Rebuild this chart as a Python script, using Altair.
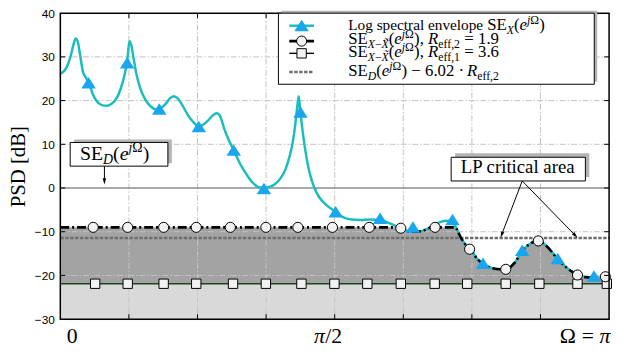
import math
import altair as alt
import pandas as pd

# ---------------- values (x in units of Omega/pi, y in dB) ----------------
env_w = [0.0, 0.0072, 0.0126, 0.0180, 0.0234, 0.0279, 0.0315, 0.0360, 0.0414, 0.0468,
         0.0522, 0.0594, 0.0683, 0.0773, 0.0845, 0.0935, 0.1025, 0.1097, 0.1169, 0.1223,
         0.1259, 0.1295, 0.1331, 0.1385, 0.1457, 0.1547, 0.1655, 0.1763, 0.1835, 0.1924,
         0.1996, 0.2068, 0.2140, 0.2212, 0.2320, 0.2428, 0.2518, 0.2590, 0.2680, 0.2770,
         0.2851, 0.2914, 0.2986, 0.3076, 0.3165, 0.3273, 0.3399, 0.3507, 0.3615, 0.3705,
         0.3795, 0.3903, 0.4011, 0.4101, 0.4173, 0.4236, 0.4281, 0.4317, 0.4344, 0.4371,
         0.4406, 0.4460, 0.4532, 0.4622, 0.4712, 0.4838, 0.4964, 0.5054, 0.5162, 0.5306,
         0.5468, 0.5647, 0.5827, 0.5971, 0.6097, 0.6205, 0.6313, 0.6457, 0.6601, 0.6709,
         0.6817, 0.6924, 0.7032, 0.7122, 0.7194, 0.7230, 0.7284, 0.7356, 0.7477, 0.7595,
         0.7703, 0.7837, 0.8016, 0.8135, 0.8286, 0.8417, 0.8556, 0.8705, 0.8854, 0.9065,
         0.9214, 0.9335, 0.9424, 0.9574, 0.9694, 0.9815, 0.9933, 1.0]
env_db = [26.2, 26.8, 27.9, 29.8, 32.5, 34.2, 33.6, 30.5, 26.5, 25.2,
          24.0, 21.4, 19.6, 18.9, 18.8, 19.3, 20.5, 22.6, 25.8, 29.5,
          33.6, 32.6, 30.0, 26.2, 22.8, 20.3, 18.6, 17.9, 18.3, 19.3,
          20.5, 21.0, 20.5, 19.2, 16.8, 15.0, 14.1, 14.4, 15.3, 16.5,
          17.1, 16.4, 13.6, 10.8, 8.5, 5.6, 3.0, 1.2, 0.2, 0.0,
          0.2, 0.8, 2.2, 4.2, 7.0, 10.5, 14.5, 18.5, 21.0, 17.8,
          14.0, 9.0, 4.0, 0.3, -2.0, -3.8, -5.0, -5.9, -6.7, -7.2,
          -7.3, -7.2, -7.3, -7.9, -8.6, -9.3, -9.8, -10.0, -9.8, -9.2,
          -8.4, -7.8, -7.5, -7.7, -8.6, -9.5, -11.0, -12.5, -14.0, -16.2,
          -17.3, -18.2, -18.6, -18.5, -17.0, -14.4, -12.8, -12.1, -13.2, -16.3,
          -18.1, -19.2, -19.8, -20.4, -20.5, -20.5, -20.4, -20.5]

dist_w = [0.0, 0.6097, 0.6205, 0.6313, 0.6457, 0.6601, 0.6709, 0.6760, 0.7194, 0.7230,
          0.7284, 0.7356, 0.7477, 0.7595, 0.7703, 0.7837, 0.8016, 0.8135, 0.8286, 0.8417,
          0.8556, 0.8705, 0.8854, 0.9065, 0.9214, 0.9335, 0.9424, 0.9574, 0.9694, 0.9815,
          0.9933, 1.0]
dist_db = [-9.0, -9.0, -9.3, -9.8, -10.0, -9.8, -9.2, -9.0, -9.0, -9.5,
           -11.0, -12.5, -14.0, -16.2, -17.3, -18.2, -18.6, -18.5, -17.0, -14.4,
           -12.8, -12.1, -13.2, -16.3, -18.1, -19.2, -19.8, -20.4, -20.5, -20.5,
           -20.4, -20.5]

tri_w = [0.0516, 0.1218, 0.1804, 0.2523, 0.3160, 0.3710, 0.4376, 0.5018, 0.5827, 0.6426,
         0.7146, 0.7703, 0.8417, 0.9065, 0.9725]
tri_db = [24.0, 28.6, 18.0, 14.0, 8.6, -0.2, 17.3, -5.5, -7.0, -9.0,
          -7.3, -17.3, -14.3, -16.2, -20.2]

circ_w = [0.0599, 0.1228, 0.1883, 0.2477, 0.3099, 0.3746, 0.4329, 0.4959, 0.5629, 0.6205,
          0.6829, 0.7459, 0.8117, 0.8710, 0.9424, 0.9933]
circ_db = [-9.0, -9.0, -9.0, -9.0, -9.0, -9.0, -9.0, -9.0, -9.0, -9.2,
           -9.0, -14.0, -18.6, -12.1, -19.9, -20.3]

sq_w = [0.0635, 0.1228, 0.1883, 0.2477, 0.3147, 0.3746, 0.4394, 0.4995, 0.5594, 0.6205,
        0.6822, 0.7415, 0.8117, 0.8729, 0.9424, 0.9959]
sq_db = [-21.9] * 16

level_r1 = -21.9        # noise level for R_eff,1 = 3.6
level_lp = -11.44       # SE_D - 6.02 * 1.9
level_sed = 0.0         # SE_D
y_ticks = [-30, -20, -10, 0, 10, 20, 30, 40]
x_grid = [0.125, 0.25, 0.375, 0.5, 0.625, 0.75, 0.875]
y_grid = [-20, -10, 10, 20, 30]

# ---------------- layout helpers ----------------
W, H = 556, 310
YMIN, YMAX = -30, 40


def fx(px):
    return px / W


def fy(py):
    return YMAX - py * (YMAX - YMIN) / H


xs = alt.Scale(domain=[0, 1], nice=False, zero=False)
ys = alt.Scale(domain=[YMIN, YMAX], nice=False, zero=False)
yaxis = alt.Axis(values=y_ticks, title="PSD [dB]", grid=False, ticks=False, domain=False,
                 labelFont="Liberation Sans", labelFontSize=12, labelColor="black",
                 labelPadding=6, titleFont="Liberation Serif", titleFontSize=21,
                 titleFontWeight="normal", titleColor="black", titlePadding=6)


def X(f):
    return alt.X(f, type="quantitative", scale=xs, axis=None)


def Y(f):
    return alt.Y(f, type="quantitative", scale=ys, axis=yaxis)


# ---------------- text composition (sub/superscripts) ----------------
REG = {' ': 250, '(': 333, ')': 333, ',': 250, '.': 250, '=': 564, '\u2212': 564, '\u00b7': 250,
       '/': 278, 'L': 611, 'P': 556, 'S': 556, 'E': 611, '\u03a9': 768, 'a': 444, 'c': 444,
       'e': 444, 'f': 333, 'g': 500, 'i': 278, 'l': 278, 'n': 500, 'o': 500, 'p': 500,
       'r': 333, 's': 389, 't': 278, 'v': 500}
ITA = {'X': 611, 'D': 722, 'e': 444, 'j': 278, 'R': 611, '\u0303': 0, '\u03c0': 520}


def tw(s, it, size):
    tbl = ITA if it else REG
    return sum(tbl.get(c, 500) for c in s) * size / 1000.0


pieces = []


def compose(x_rel, base_rel, F, parts):
    cur = x_rel
    for part in parts:
        text, kind, it = part[:3]
        size = part[3] if len(part) > 3 else (F if kind == "n" else round(F * 0.7, 2))
        dy = 0.0 if kind == "n" else (F * 0.24 if kind == "sub" else -F * 0.36)
        stripped = text.lstrip(" ")
        cur += (len(text) - len(stripped)) * 250 * size / 1000.0
        pieces.append(dict(x=fx(cur), y=fy(base_rel + dy), t=stripped, size=size, it=it))
        cur += tw(stripped, it, size)


LX = 291.7
compose(LX, 17.3, 17, [("Log spectral envelope ", "n", 0, 15.5), ("SE", "n", 0), ("X", "sub", 1),
                       ("(", "n", 0), ("e", "n", 1), ("j", "sup", 1), ("\u03a9", "sup", 0), (")", "n", 0)])
compose(LX, 31.7, 17, [("SE", "n", 0), ("X", "sub", 1), ("\u2212", "sub", 0), ("X\u0303", "sub", 1),
                       ("(", "n", 0), ("e", "n", 1), ("j", "sup", 1), ("\u03a9", "sup", 0),
                       ("), ", "n", 0), ("R", "n", 1), ("eff,2", "sub", 0), (" = 1.9", "n", 0)])
compose(LX, 44.0, 17, [("SE", "n", 0), ("X", "sub", 1), ("\u2212", "sub", 0), ("X\u0303", "sub", 1),
                       ("(", "n", 0), ("e", "n", 1), ("j", "sup", 1), ("\u03a9", "sup", 0),
                       ("), ", "n", 0), ("R", "n", 1), ("eff,1", "sub", 0), (" = 3.6", "n", 0)])
compose(LX, 64.0, 17, [("SE", "n", 0), ("D", "sub", 1), ("(", "n", 0), ("e", "n", 1),
                       ("j", "sup", 1), ("\u03a9", "sup", 0), (") \u2212 6.02 \u00b7 ", "n", 0),
                       ("R", "n", 1), ("eff,2", "sub", 0)])
# annotation boxes
compose(20.0, 148.3, 20, [("SE", "n", 0), ("D", "sub", 1), ("(", "n", 0), ("e", "n", 1),
                          ("j", "sup", 1), ("\u03a9", "sup", 0), (")", "n", 0)])
compose(405.7, 162.3, 19, [("LP critical area", "n", 0)])
# x tick labels
compose(6.5, 334, 22, [("0", "n", 0)])
compose(257, 334, 22, [("\u03c0", "n", 1), ("/2", "n", 0)])
compose(506, 334, 22, [("\u03a9", "n", 0), (" = ", "n", 0), ("\u03c0", "n", 1)])

# ---------------- layers ----------------
layers = []

# fills
layers.append(alt.Chart(pd.DataFrame({"w": [0, 1], "y": [level_r1, level_r1]}))
              .mark_area(color="#d9d9d9")
              .encode(x=X("w"), y=Y("y"), y2=alt.datum(YMIN)))
dist_df = pd.DataFrame({"w": dist_w, "db": dist_db})
layers.append(alt.Chart(dist_df).mark_area(color="#a3a3a3", interpolate="monotone")
              .encode(x=X("w"), y=Y("db"), y2=alt.datum(level_r1)))

# grid
layers.append(alt.Chart(pd.DataFrame({"w": x_grid}))
              .mark_rule(color="#c2c2c2", strokeWidth=1, strokeDash=[6, 2, 1.5, 2])
              .encode(x=X("w"), y=alt.value(0), y2=alt.value(H)))
layers.append(alt.Chart(pd.DataFrame({"y": y_grid}))
              .mark_rule(color="#c2c2c2", strokeWidth=1, strokeDash=[6, 2, 1.5, 2])
              .encode(y=Y("y"), x=alt.value(0), x2=alt.value(W)))

# reference levels
DASH_COLOR = "#6e6e6e"
layers.append(alt.Chart(pd.DataFrame({"w": [0, 1], "y": [level_sed, level_sed]}))
              .mark_line(color="#8c8c8c", strokeWidth=1.3).encode(x=X("w"), y=Y("y")))
layers.append(alt.Chart(pd.DataFrame({"w": [0, 1], "y": [level_r1, level_r1]}))
              .mark_line(color="#1e451e", strokeWidth=1.4).encode(x=X("w"), y=Y("y")))
layers.append(alt.Chart(pd.DataFrame({"w": [0, 1], "y": [level_lp, level_lp]}))
              .mark_line(color=DASH_COLOR, strokeWidth=2.5, strokeDash=[3.5, 1.5]).encode(x=X("w"), y=Y("y")))

# curves
env_df = pd.DataFrame({"w": env_w, "db": env_db})
ENV_COLOR = "#1abdbd"
TRI_COLOR = "#1aa6ee"
TRI = "M0,-1L1.2,0.9L-1.2,0.9Z"
layers.append(alt.Chart(env_df).mark_line(color=ENV_COLOR, strokeWidth=2.5, interpolate="monotone")
              .encode(x=X("w"), y=Y("db")))
layers.append(alt.Chart(dist_df).mark_line(color="black", strokeWidth=2.6, strokeDash=[9, 3, 2, 3],
                                           interpolate="monotone")
              .encode(x=X("w"), y=Y("db")))

# markers
layers.append(alt.Chart(pd.DataFrame({"w": sq_w, "db": sq_db}))
              .mark_point(shape="square", filled=True, fill="#f2f2f2", stroke="black",
                          strokeWidth=1, size=90, opacity=1)
              .encode(x=X("w"), y=Y("db")))
layers.append(alt.Chart(pd.DataFrame({"w": tri_w, "db": tri_db}))
              .mark_point(shape=TRI, filled=True, color=TRI_COLOR, size=150, opacity=1)
              .encode(x=X("w"), y=Y("db")))
layers.append(alt.Chart(pd.DataFrame({"w": circ_w, "db": circ_db}))
              .mark_point(shape="circle", filled=True, fill="#f2f2f2", stroke="black",
                          strokeWidth=1, size=105, opacity=1)
              .encode(x=X("w"), y=Y("db")))

# frame and inward ticks
layers.append(alt.Chart(pd.DataFrame({"a": [0]}))
              .mark_rect(fillOpacity=0, stroke="black", strokeWidth=1.5)
              .encode(x=alt.value(0), x2=alt.value(W), y=alt.value(0), y2=alt.value(H)))
tick_x = alt.Chart(pd.DataFrame({"w": x_grid}))
layers.append(tick_x.mark_rule(color="black", strokeWidth=1)
              .encode(x=X("w"), y=alt.value(H), y2=alt.value(H - 5)))
layers.append(tick_x.mark_rule(color="black", strokeWidth=1)
              .encode(x=X("w"), y=alt.value(0), y2=alt.value(5)))
tick_y = alt.Chart(pd.DataFrame({"y": [-20, -10, 0, 10, 20, 30]}))
layers.append(tick_y.mark_rule(color="black", strokeWidth=1)
              .encode(y=Y("y"), x=alt.value(0), x2=alt.value(5)))
layers.append(tick_y.mark_rule(color="black", strokeWidth=1)
              .encode(y=Y("y"), x=alt.value(W), x2=alt.value(W - 5)))

# boxes: legend, SE_D label, LP label  (x0, x1, y0, y1 in plot pixels, shadow offset)
boxes = [(221, 541, 0, 72, 3, -2.5), (10, 109, 131, 155, 4, -3), (396, 532, 146, 170, 4, -4)]
shadow_df = pd.DataFrame([dict(x=fx(a + dx), x2=fx(b + dx), y=fy(c + dy), y2=fy(d + dy))
                          for a, b, c, d, dx, dy in boxes])
box_df = pd.DataFrame([dict(x=fx(a), x2=fx(b), y=fy(c), y2=fy(d)) for a, b, c, d, dx, dy in boxes])
layers.append(alt.Chart(shadow_df).mark_rect(color="#b4b4b4")
              .encode(x=X("x"), x2="x2", y=Y("y"), y2="y2"))
layers.append(alt.Chart(box_df).mark_rect(fill="white", stroke="black", strokeWidth=1)
              .encode(x=X("x"), x2="x2", y=Y("y"), y2="y2"))

# legend symbols
SX0, SX1, SXC = 232, 257, 244.5
ROWS = [12.7, 28.3, 40.7, 59.7]


def seg(row):
    return pd.DataFrame({"w": [fx(SX0), fx(SX1)], "db": [fy(row), fy(row)]})


def pt(row):
    return pd.DataFrame({"w": [fx(SXC)], "db": [fy(row)]})


layers.append(alt.Chart(seg(ROWS[0])).mark_line(color=ENV_COLOR, strokeWidth=2.5)
              .encode(x=X("w"), y=Y("db")))
layers.append(alt.Chart(pt(ROWS[0])).mark_point(shape=TRI, filled=True, color=TRI_COLOR, size=150, opacity=1)
              .encode(x=X("w"), y=Y("db")))
layers.append(alt.Chart(seg(ROWS[1])).mark_line(color="black", strokeWidth=2.6, strokeDash=[9, 3, 2, 3])
              .encode(x=X("w"), y=Y("db")))
layers.append(alt.Chart(pt(ROWS[1])).mark_point(shape="circle", filled=True, fill="#f2f2f2", stroke="black",
                                                 strokeWidth=1, size=105, opacity=1)
              .encode(x=X("w"), y=Y("db")))
layers.append(alt.Chart(seg(ROWS[2])).mark_line(color="black", strokeWidth=1.4)
              .encode(x=X("w"), y=Y("db")))
layers.append(alt.Chart(pt(ROWS[2])).mark_point(shape="square", filled=True, fill="#f2f2f2", stroke="black",
                                                 strokeWidth=1, size=90, opacity=1)
              .encode(x=X("w"), y=Y("db")))
layers.append(alt.Chart(seg(ROWS[3])).mark_line(color=DASH_COLOR, strokeWidth=2.5, strokeDash=[3.5, 1.5])
              .encode(x=X("w"), y=Y("db")))

# arrows (start, tip in plot pixels)
arrows = [((44.7, 155), (44.7, 173.5)), ((468, 170), (446, 227.5)), ((468, 170), (524, 227.5))]
ARROW = "M0,-1L0.55,1L-0.55,1Z"
ASIZE = 40
r = math.sqrt(ASIZE) / 2
rule_rows, head_rows = [], []
for (sx, sy), (tx, ty) in arrows:
    dx, dy = tx - sx, ty - sy
    L = math.hypot(dx, dy)
    ux, uy = dx / L, dy / L
    cx, cy = tx - r * ux, ty - r * uy
    rule_rows.append(dict(x=fx(sx), y=fy(sy), x2=fx(cx), y2=fy(cy)))
    ang = math.degrees(math.atan2(dx, -dy)) % 360
    head_rows.append(dict(x=fx(cx), y=fy(cy), ang=ang))
layers.append(alt.Chart(pd.DataFrame(rule_rows)).mark_rule(color="black", strokeWidth=1)
              .encode(x=X("x"), y=Y("y"), x2="x2", y2="y2"))
layers.append(alt.Chart(pd.DataFrame(head_rows))
              .mark_point(shape=ARROW, filled=True, color="black", size=ASIZE, opacity=1)
              .encode(x=X("x"), y=Y("y"), angle=alt.Angle("ang:Q", scale=None)))

# text pieces
pdf = pd.DataFrame(pieces)
for (size, it), grp in pdf.groupby(["size", "it"]):
    layers.append(alt.Chart(grp.reset_index(drop=True))
                  .mark_text(align="left", baseline="alphabetic", font="Liberation Serif",
                             fontSize=float(size), fontStyle="italic" if it else "normal", color="black")
                  .encode(x=X("x"), y=Y("y"), text="t:N"))

chart = (alt.layer(*layers)
         .properties(width=W, height=H, autosize="none",
                     padding={"left": 53, "top": 3, "right": 6, "bottom": 27})
         .configure_view(stroke=None)
         .configure(background="white"))

chart.save("out.html", embed_options={"renderer": "svg", "actions": False})
